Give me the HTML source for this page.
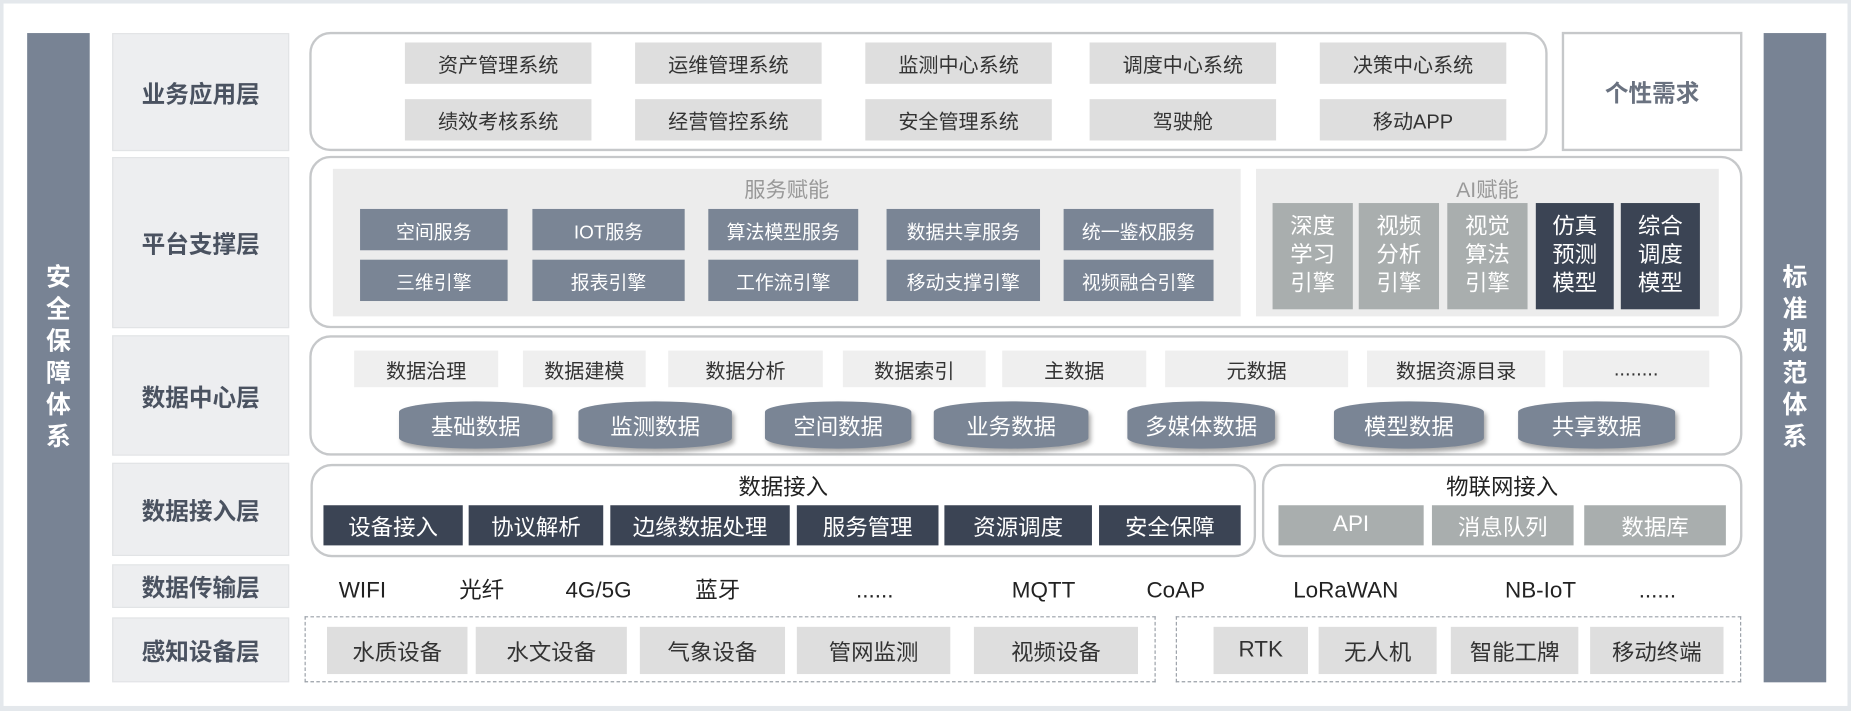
<!DOCTYPE html>
<html><head><meta charset="utf-8"><style>
*{margin:0;padding:0;box-sizing:border-box}
body{width:1851px;height:711px;background:#e4e8ec;overflow:hidden;font-family:"Liberation Sans","Noto Sans CJK SC",sans-serif}
#s{position:absolute;left:0;top:0;width:1568px;height:602px;transform:scale(1.18049);transform-origin:0 0}
.a{position:absolute;display:flex;align-items:center;justify-content:center;text-align:center;white-space:nowrap}
.g{background:#dedede;color:#333;font-size:17px}
.m{background:#7a8595;color:#fff;font-size:16px}
.d{background:#3b4454;color:#fff;font-size:19px}
.l{background:#a9aeae;color:#fff;font-size:19px}
.lab{background:#edeef0;color:#4a5260;font-size:20px;font-weight:bold;border:1px solid #e2e4e6}
.bx{position:absolute;border:2px solid #c6c8ca;border-radius:18px}
.t{position:absolute;top:488px;width:120px;height:26px;line-height:26px;font-size:19px;color:#222;margin-left:-60px;display:flex;align-items:center;justify-content:center}
.cy{background:#7a8595;color:#fff;font-size:19px;border-radius:50%/9px;box-shadow:2px 3px 4px rgba(0,0,0,.35)}
.lt{background:#efefef;color:#333;font-size:17px}
.vbar{position:absolute;background:#788394;color:#fff;font-weight:bold;font-size:21px;display:flex;align-items:center;justify-content:center;line-height:27px;text-align:center}
</style></head><body><div id="s">
<div style="position:absolute;left:3px;top:3px;width:1562px;height:595px;background:#fff"></div>
<div class="vbar" style="left:23px;top:28px;width:53px;height:550px">安<br>全<br>保<br>障<br>体<br>系</div>
<div class="vbar" style="left:1494px;top:28px;width:53px;height:550px">标<br>准<br>规<br>范<br>体<br>系</div>

<div class="a lab" style="left:95px;top:28px;width:150px;height:100px">业务应用层</div>
<div class="a lab" style="left:95px;top:133px;width:150px;height:145px">平台支撑层</div>
<div class="a lab" style="left:95px;top:284px;width:150px;height:102px">数据中心层</div>
<div class="a lab" style="left:95px;top:392px;width:150px;height:79px">数据接入层</div>
<div class="a lab" style="left:95px;top:478px;width:150px;height:37px">数据传输层</div>
<div class="a lab" style="left:95px;top:523px;width:150px;height:55px">感知设备层</div>

<div class="bx" style="left:262px;top:27px;width:1049px;height:101px"></div>
<div class="a g" style="left:343px;top:36px;width:158px;height:35px">资产管理系统</div>
<div class="a g" style="left:538px;top:36px;width:158px;height:35px">运维管理系统</div>
<div class="a g" style="left:733px;top:36px;width:158px;height:35px">监测中心系统</div>
<div class="a g" style="left:923px;top:36px;width:158px;height:35px">调度中心系统</div>
<div class="a g" style="left:1118px;top:36px;width:158px;height:35px">决策中心系统</div>
<div class="a g" style="left:343px;top:84px;width:158px;height:35px">绩效考核系统</div>
<div class="a g" style="left:538px;top:84px;width:158px;height:35px">经营管控系统</div>
<div class="a g" style="left:733px;top:84px;width:158px;height:35px">安全管理系统</div>
<div class="a g" style="left:923px;top:84px;width:158px;height:35px">驾驶舱</div>
<div class="a g" style="left:1118px;top:84px;width:158px;height:35px">移动APP</div>
<div class="a" style="left:1323px;top:27px;width:153px;height:101px;border:2px solid #c6c8ca;color:#6a7280;font-size:20px;font-weight:bold">个性需求</div>

<div class="bx" style="left:262px;top:132px;width:1214px;height:146px"></div>
<div style="position:absolute;left:282px;top:143px;width:769px;height:125px;background:#ececec"></div>
<div class="a" style="left:282px;top:148px;width:769px;height:24px;color:#999;font-size:18px">服务赋能</div>
<div class="a m" style="left:305px;top:177px;width:125px;height:35px">空间服务</div>
<div class="a m" style="left:451px;top:177px;width:129px;height:35px">IOT服务</div>
<div class="a m" style="left:600px;top:177px;width:127px;height:35px">算法模型服务</div>
<div class="a m" style="left:751px;top:177px;width:130px;height:35px">数据共享服务</div>
<div class="a m" style="left:901px;top:177px;width:127px;height:35px">统一鉴权服务</div>
<div class="a m" style="left:305px;top:220px;width:125px;height:35px">三维引擎</div>
<div class="a m" style="left:451px;top:220px;width:129px;height:35px">报表引擎</div>
<div class="a m" style="left:600px;top:220px;width:127px;height:35px">工作流引擎</div>
<div class="a m" style="left:751px;top:220px;width:130px;height:35px">移动支撑引擎</div>
<div class="a m" style="left:901px;top:220px;width:127px;height:35px">视频融合引擎</div>
<div style="position:absolute;left:1064px;top:143px;width:392px;height:125px;background:#ececec"></div>
<div class="a" style="left:1064px;top:148px;width:392px;height:24px;color:#999;font-size:18px">AI赋能</div>
<div class="a l" style="left:1078px;top:172px;width:68px;height:90px;line-height:24px;white-space:normal">深度<br>学习<br>引擎</div>
<div class="a l" style="left:1151px;top:172px;width:68px;height:90px;line-height:24px;white-space:normal">视频<br>分析<br>引擎</div>
<div class="a l" style="left:1226px;top:172px;width:68px;height:90px;line-height:24px;white-space:normal">视觉<br>算法<br>引擎</div>
<div class="a d" style="left:1301px;top:172px;width:66px;height:90px;line-height:24px;white-space:normal">仿真<br>预测<br>模型</div>
<div class="a d" style="left:1373px;top:172px;width:67px;height:90px;line-height:24px;white-space:normal">综合<br>调度<br>模型</div>

<div class="bx" style="left:262px;top:284px;width:1214px;height:102px"></div>
<div class="a lt" style="left:300px;top:297px;width:122px;height:31px">数据治理</div>
<div class="a lt" style="left:443px;top:297px;width:104px;height:31px">数据建模</div>
<div class="a lt" style="left:566px;top:297px;width:131px;height:31px">数据分析</div>
<div class="a lt" style="left:714px;top:297px;width:121px;height:31px">数据索引</div>
<div class="a lt" style="left:849px;top:297px;width:122px;height:31px">主数据</div>
<div class="a lt" style="left:987px;top:297px;width:155px;height:31px">元数据</div>
<div class="a lt" style="left:1158px;top:297px;width:151px;height:31px">数据资源目录</div>
<div class="a lt" style="left:1324px;top:297px;width:124px;height:31px">........</div>
<div class="a cy" style="left:338px;top:340px;width:130px;height:40px">基础数据</div>
<div class="a cy" style="left:490px;top:340px;width:130px;height:40px">监测数据</div>
<div class="a cy" style="left:648px;top:340px;width:124px;height:40px">空间数据</div>
<div class="a cy" style="left:791px;top:340px;width:131px;height:40px">业务数据</div>
<div class="a cy" style="left:955px;top:340px;width:125px;height:40px">多媒体数据</div>
<div class="a cy" style="left:1130px;top:340px;width:127px;height:40px">模型数据</div>
<div class="a cy" style="left:1286px;top:340px;width:133px;height:40px">共享数据</div>

<div class="bx" style="left:263px;top:393px;width:801px;height:79px"></div>
<div class="a" style="left:263px;top:398px;width:801px;height:26px;font-size:19px;color:#222">数据接入</div>
<div class="a d" style="left:274px;top:428px;width:118px;height:34px">设备接入</div>
<div class="a d" style="left:397px;top:428px;width:114px;height:34px">协议解析</div>
<div class="a d" style="left:517px;top:428px;width:152px;height:34px">边缘数据处理</div>
<div class="a d" style="left:675px;top:428px;width:120px;height:34px">服务管理</div>
<div class="a d" style="left:800px;top:428px;width:125px;height:34px">资源调度</div>
<div class="a d" style="left:931px;top:428px;width:120px;height:34px">安全保障</div>
<div class="bx" style="left:1069px;top:393px;width:407px;height:79px"></div>
<div class="a" style="left:1069px;top:398px;width:407px;height:26px;font-size:19px;color:#222">物联网接入</div>
<div class="a l" style="left:1083px;top:428px;width:123px;height:34px">API</div>
<div class="a l" style="left:1213px;top:428px;width:120px;height:34px">消息队列</div>
<div class="a l" style="left:1342px;top:428px;width:120px;height:34px">数据库</div>

<div class="t" style="left:307px">WIFI</div>
<div class="t" style="left:408px">光纤</div>
<div class="t" style="left:507px">4G/5G</div>
<div class="t" style="left:608px">蓝牙</div>
<div class="t" style="left:741px">......</div>
<div class="t" style="left:884px">MQTT</div>
<div class="t" style="left:996px">CoAP</div>
<div class="t" style="left:1140px">LoRaWAN</div>
<div class="t" style="left:1305px">NB-IoT</div>
<div class="t" style="left:1404px">......</div>

<div style="position:absolute;left:258px;top:522px;width:721px;height:56px;border:1px dashed #9aa0a8"></div>
<div style="position:absolute;left:996px;top:522px;width:479px;height:56px;border:1px dashed #9aa0a8"></div>
<div class="a g" style="left:277px;top:531px;width:119px;height:40px;font-size:19px">水质设备</div>
<div class="a g" style="left:403px;top:531px;width:128px;height:40px;font-size:19px">水文设备</div>
<div class="a g" style="left:542px;top:531px;width:123px;height:40px;font-size:19px">气象设备</div>
<div class="a g" style="left:675px;top:531px;width:130px;height:40px;font-size:19px">管网监测</div>
<div class="a g" style="left:825px;top:531px;width:139px;height:40px;font-size:19px">视频设备</div>
<div class="a g" style="left:1028px;top:531px;width:80px;height:40px;font-size:19px">RTK</div>
<div class="a g" style="left:1117px;top:531px;width:100px;height:40px;font-size:19px">无人机</div>
<div class="a g" style="left:1229px;top:531px;width:108px;height:40px;font-size:19px">智能工牌</div>
<div class="a g" style="left:1347px;top:531px;width:113px;height:40px;font-size:19px">移动终端</div>
</div></body></html>
